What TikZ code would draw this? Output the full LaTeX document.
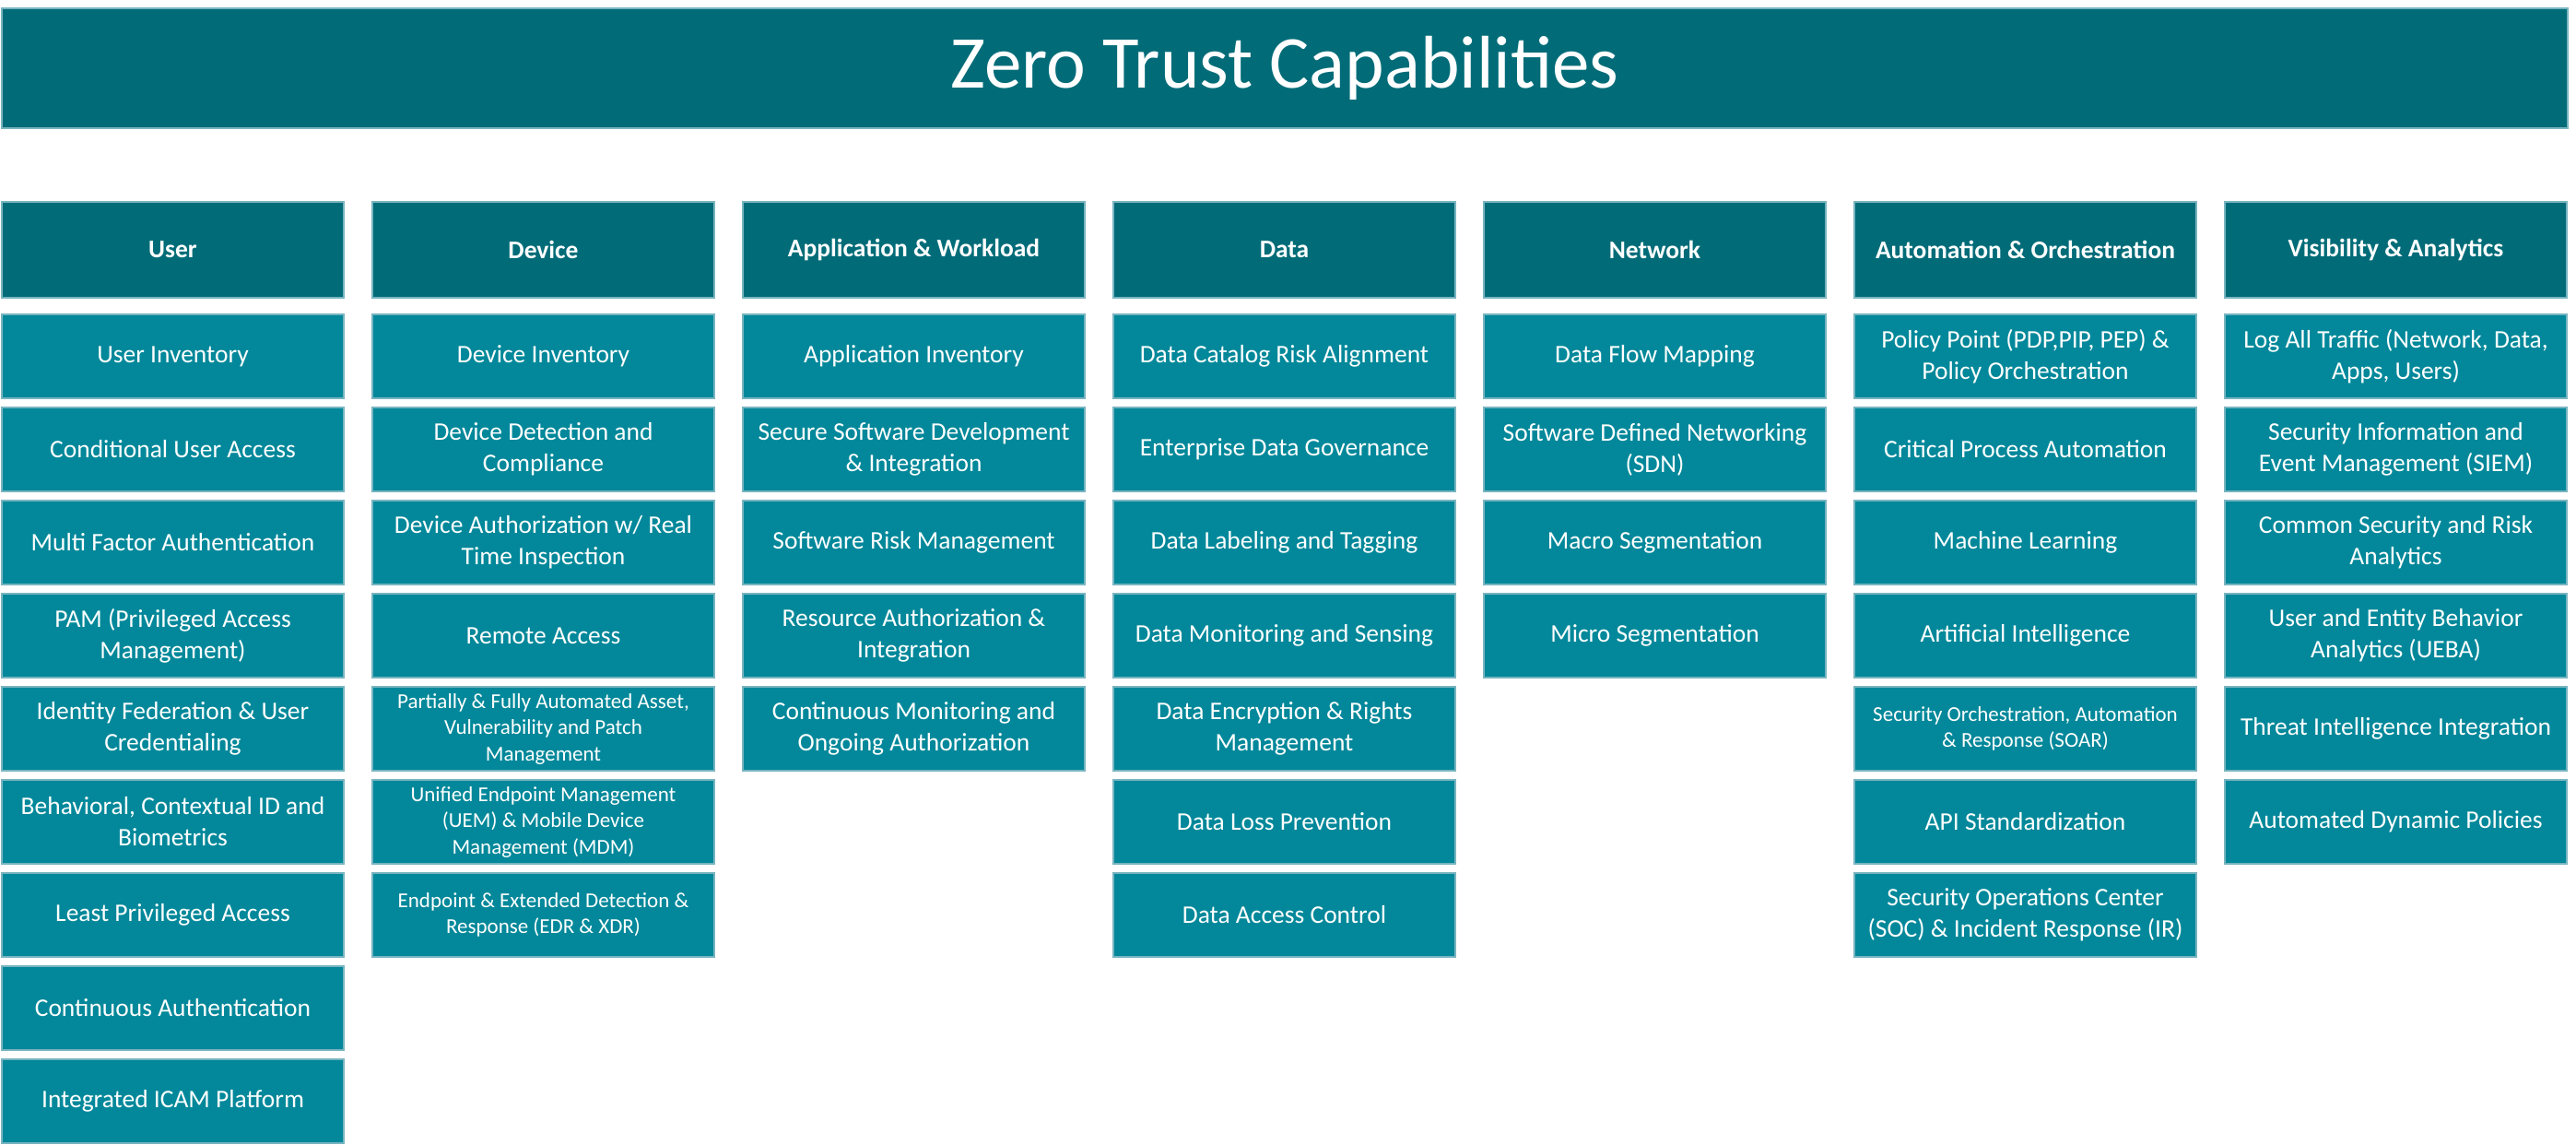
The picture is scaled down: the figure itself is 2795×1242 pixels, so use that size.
\documentclass[tikz,border=0pt]{standalone}
\usepackage{fontspec}
\setmainfont{Carlito}
\definecolor{headc}{RGB}{1,108,120}
\definecolor{itemc}{RGB}{2,136,154}
\definecolor{edgec}{RGB}{120,180,192}
\tikzset{
  cellbase/.style={draw=edgec, line width=1.2pt, inner sep=0pt, text=white, align=center,
    minimum width=371pt, minimum height=91pt},
  headbox/.style={cellbase, fill=headc, minimum height=104pt, font=\fontsize{27.5}{34}\selectfont\bfseries},
  itembox/.style={cellbase, fill=itemc, font=\fontsize{27.5}{34}\selectfont},
  smallbox/.style={cellbase, fill=itemc, font=\fontsize{23}{28.5}\selectfont},
  titlebox/.style={draw=edgec, line width=1.2pt, fill=headc, text=white, inner sep=0pt,
    minimum width=2784pt, minimum height=130pt, font=\fontsize{81}{90}\selectfont}
}
\begin{document}
\begin{tikzpicture}[x=1pt,y=-1pt]
\useasboundingbox (0,0) rectangle (2795,1242);
\node[titlebox] (title) at (1394,74) {\raisebox{-6pt}{Zero Trust Capabilities}};
% headers
\node[headbox] (hu) at (187.5,271) {\raisebox{-3pt}{User}};
\node[headbox] (hd) at (589.5,271) {\raisebox{-3pt}{Device}};
\node[headbox] (ha) at (991.5,271) {\raisebox{-3pt}{Application \& Workload}};
\node[headbox] (hda) at (1393.5,271) {\raisebox{-3pt}{Data}};
\node[headbox] (hn) at (1795.5,271) {\raisebox{-3pt}{Network}};
\node[headbox] (hao) at (2197.5,271) {\raisebox{-3pt}{Automation \& Orchestration}};
\node[headbox] (hv) at (2599.5,271) {\raisebox{-3pt}{Visibility \& Analytics}};
% User
\node[itembox] (u1) at (187.5,386.5) {User Inventory};
\node[itembox] (u2) at (187.5,487.5) {Conditional User Access};
\node[itembox] (u3) at (187.5,588.5) {Multi Factor Authentication};
\node[itembox] (u4) at (187.5,689.5) {PAM (Privileged Access\\Management)};
\node[itembox] (u5) at (187.5,790.5) {Identity Federation \& User\\Credentialing};
\node[itembox] (u6) at (187.5,891.5) {Behavioral, Contextual ID and\\Biometrics};
\node[itembox] (u7) at (187.5,992.5) {Least Privileged Access};
\node[itembox] (u8) at (187.5,1093.5) {Continuous Authentication};
\node[itembox] (u9) at (187.5,1194.5) {Integrated ICAM Platform};
% Device
\node[itembox] (d1) at (589.5,386.5) {Device Inventory};
\node[itembox] (d2) at (589.5,487.5) {Device Detection and\\Compliance};
\node[itembox] (d3) at (589.5,588.5) {Device Authorization w/ Real\\Time Inspection};
\node[itembox] (d4) at (589.5,689.5) {Remote Access};
\node[smallbox] (d5) at (589.5,790.5) {Partially \& Fully Automated Asset,\\Vulnerability and Patch\\Management};
\node[smallbox] (d6) at (589.5,891.5) {Unified Endpoint Management\\(UEM) \& Mobile Device\\Management (MDM)};
\node[smallbox] (d7) at (589.5,992.5) {Endpoint \& Extended Detection \&\\Response (EDR \& XDR)};
% Application
\node[itembox] (a1) at (991.5,386.5) {Application Inventory};
\node[itembox] (a2) at (991.5,487.5) {Secure Software Development\\\& Integration};
\node[itembox] (a3) at (991.5,588.5) {Software Risk Management};
\node[itembox] (a4) at (991.5,689.5) {Resource Authorization \&\\Integration};
\node[itembox] (a5) at (991.5,790.5) {Continuous Monitoring and\\Ongoing Authorization};
% Data
\node[itembox] (da1) at (1393.5,386.5) {Data Catalog Risk Alignment};
\node[itembox] (da2) at (1393.5,487.5) {Enterprise Data Governance};
\node[itembox] (da3) at (1393.5,588.5) {Data Labeling and Tagging};
\node[itembox] (da4) at (1393.5,689.5) {Data Monitoring and Sensing};
\node[itembox] (da5) at (1393.5,790.5) {Data Encryption \& Rights\\Management};
\node[itembox] (da6) at (1393.5,891.5) {Data Loss Prevention};
\node[itembox] (da7) at (1393.5,992.5) {Data Access Control};
% Network
\node[itembox] (n1) at (1795.5,386.5) {Data Flow Mapping};
\node[itembox] (n2) at (1795.5,487.5) {Software Defined Networking\\(SDN)};
\node[itembox] (n3) at (1795.5,588.5) {Macro Segmentation};
\node[itembox] (n4) at (1795.5,689.5) {Micro Segmentation};
% Automation
\node[itembox] (o1) at (2197.5,386.5) {Policy Point (PDP,PIP, PEP) \&\\Policy Orchestration};
\node[itembox] (o2) at (2197.5,487.5) {Critical Process Automation};
\node[itembox] (o3) at (2197.5,588.5) {Machine Learning};
\node[itembox] (o4) at (2197.5,689.5) {Artificial Intelligence};
\node[smallbox] (o5) at (2197.5,790.5) {Security Orchestration, Automation\\\& Response (SOAR)};
\node[itembox] (o6) at (2197.5,891.5) {API Standardization};
\node[itembox] (o7) at (2197.5,992.5) {Security Operations Center\\(SOC) \& Incident Response (IR)};
% Visibility
\node[itembox] (v1) at (2599.5,386.5) {Log All Traffic (Network, Data,\\Apps, Users)};
\node[itembox] (v2) at (2599.5,487.5) {Security Information and\\Event Management (SIEM)};
\node[itembox] (v3) at (2599.5,588.5) {Common Security and Risk\\Analytics};
\node[itembox] (v4) at (2599.5,689.5) {User and Entity Behavior\\Analytics (UEBA)};
\node[itembox] (v5) at (2599.5,790.5) {Threat Intelligence Integration};
\node[itembox] (v6) at (2599.5,891.5) {Automated Dynamic Policies};
\end{tikzpicture}
\end{document}
